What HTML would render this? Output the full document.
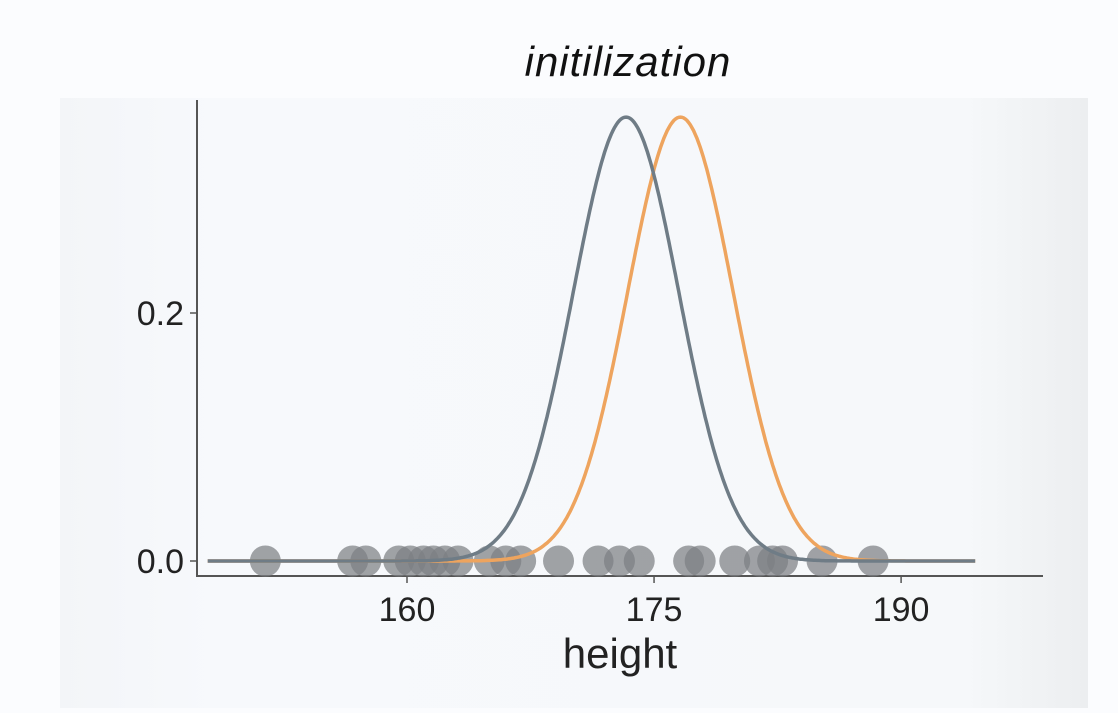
<!DOCTYPE html>
<html><head><meta charset="utf-8"><style>
body{margin:0;width:1118px;height:708px;overflow:hidden;background:#fbfcfe;font-family:"Liberation Sans",sans-serif}
</style></head><body>
<svg width="1118" height="708">
<defs><linearGradient id="bg" x1="0" x2="1"><stop offset="0" stop-color="#f3f5f8"/><stop offset="0.15" stop-color="#f7f9fc"/><stop offset="0.88" stop-color="#f6f8fa"/><stop offset="1" stop-color="#eceef0"/></linearGradient></defs>
<rect x="60" y="98" width="1028" height="610" fill="url(#bg)"/>
<text x="628" y="76" text-anchor="middle" font-family="'Liberation Sans',sans-serif" font-size="42" font-style="italic" fill="#111" style="letter-spacing:1px">initilization</text>
<g id="plot"></g>
</svg>
<script>
const xTicks=[160,175,190];
const yTicks=[0.0,0.2];
const points=[151.4,156.7,157.5,159.5,160.2,161.0,161.6,162.3,163.1,165.0,166.0,166.9,169.2,171.6,172.9,174.1,177.1,177.8,179.9,181.4,182.2,182.8,185.2,188.3];
const greyMean=[173.3],greySd=[3.2],greyPeak=[0.358];
const orangeMean=[176.6],orangeSd=[3.2],orangePeak=[0.358];
const X=v=>407+(v-160)*16.47, Y=v=>561-v*1240;
const g=document.getElementById('plot'),NS='http://www.w3.org/2000/svg';
function mk(t,a){const e=document.createElementNS(NS,t);for(const k in a)e.setAttribute(k,a[k]);g.appendChild(e);return e;}
let e;
e=mk('line',{x1:197,y1:100,x2:197,y2:577,stroke:'#555','stroke-width':2});


e=mk('line',{x1:196,y1:576,x2:1043,y2:576,stroke:'#555','stroke-width':2});


xTicks.forEach(t=>{
 e=mk('line',{x1:X(t),y1:576,x2:X(t),y2:583,stroke:'#555','stroke-width':1.5});
 
 
 e=mk('text',{x:X(t),y:621,'text-anchor':'middle','font-size':34,fill:'#222'});e.textContent=t;
 
 
});
yTicks.forEach(t=>{
 e=mk('line',{x1:190,y1:Y(t),x2:197,y2:Y(t),stroke:'#555','stroke-width':1.5});
 
 
 e=mk('text',{x:184,y:Y(t)+12,'text-anchor':'end','font-size':34,fill:'#222'});e.textContent=t.toFixed(1);
 
 
});
e=mk('text',{x:620,y:668,'text-anchor':'middle','font-size':42,fill:'#222'});e.textContent='height';


points.forEach(p=>{
 e=mk('circle',{cx:X(p),cy:561,r:15.5,fill:'rgba(125,128,132,0.72)'});
 
 
});
function curve(m,s,pk,col,name){
 let d='';for(let v=147.9;v<=194.5;v+=0.1){const y=pk*Math.exp(-0.5*((v-m)/s)**2);d+=(d?'L':'M')+X(v).toFixed(1)+','+Y(y).toFixed(1);}
 e=mk('path',{d:d,fill:'none',stroke:col,'stroke-width':3.5});
 
 
}
curve(orangeMean[0],orangeSd[0],orangePeak[0],'#eea45e','orange-gaussian');
curve(greyMean[0],greySd[0],greyPeak[0],'#6f7c86','grey-gaussian');
</script>
</body></html>
